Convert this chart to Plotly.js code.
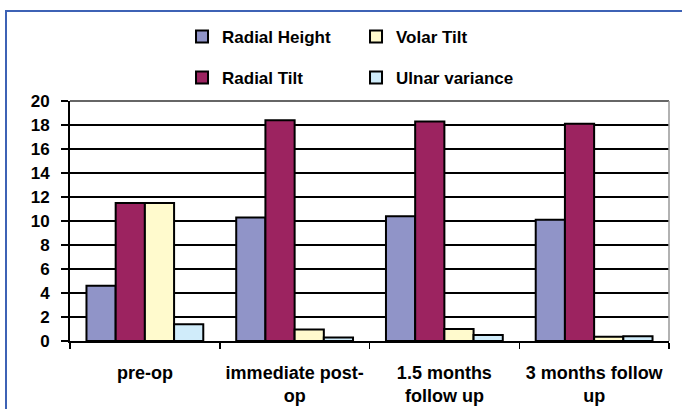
<!DOCTYPE html>
<html>
<head>
<meta charset="utf-8">
<script src="https://cdn.plot.ly/plotly-3.0.1.min.js"></script>
<style>
html,body{margin:0;padding:0;background:#fff;}
#frame{position:absolute;left:5px;top:10px;width:677px;height:399px;border-left:2px solid #3d62b5;border-top:2px solid #3d62b5;box-sizing:border-box;}
#chart{position:absolute;left:0;top:0;width:682px;height:409px;}
</style>
</head>
<body>
<div id="frame"></div>
<div id="chart"></div>
<script>
const categories = ["pre-op", "immediate post-<br>op", "1.5 months<br>follow up", "3 months follow<br>up"];
const radialHeight = [4.6, 10.3, 10.4, 10.1];
const radialTilt = [11.5, 18.4, 18.3, 18.1];
const volarTilt = [11.5, 0.95, 1.0, 0.35];
const ulnarVariance = [1.4, 0.3, 0.5, 0.4];
const yTicks = [0, 2, 4, 6, 8, 10, 12, 14, 16, 18, 20];

const line = {color: "#000", width: 2};
const traces = [
  {type: "bar", name: "Radial Height", x: categories, y: radialHeight, marker: {color: "#9094c8", line: line}, legend: "legend"},
  {type: "bar", name: "Radial Tilt", x: categories, y: radialTilt, marker: {color: "#9c2360", line: line}, legend: "legend2"},
  {type: "bar", name: "Volar Tilt", x: categories, y: volarTilt, marker: {color: "#fffacd", line: line}, legend: "legend"},
  {type: "bar", name: "Ulnar variance", x: categories, y: ulnarVariance, marker: {color: "#d0ecfa", line: line}, legend: "legend2"}
];

const fam = "Liberation Sans, Arial, sans-serif";
const font = {family: fam, size: 18, color: "#000", weight: "bold"};
const legendBase = {orientation: "h", x: 0.187, xanchor: "left", yanchor: "middle",
  entrywidth: 129, entrywidthmode: "pixels", itemwidth: 30, bgcolor: "rgba(0,0,0,0)",
  font: {family: fam, size: 17, color: "#000", weight: "bold"}, traceorder: "normal"};

const layout = {
  width: 682, height: 409,
  margin: {l: 70, r: 13, t: 101, b: 68},
  paper_bgcolor: "rgba(0,0,0,0)", plot_bgcolor: "#fff",
  font: font,
  barmode: "group", bargap: 0.22, bargroupgap: 0,
  showlegend: true,
  legend: Object.assign({}, legendBase, {y: 1.267}),
  legend2: Object.assign({}, legendBase, {y: 1.096}),
  xaxis: {type: "category", tickson: "boundaries", ticks: "outside", ticklen: 6, tickwidth: 1.5, tickcolor: "#000",
    showline: true, linecolor: "#000", linewidth: 2, showgrid: false, tickfont: font, automargin: false,
    ticklabelstandoff: 14},
  yaxis: {range: [0, 20], tickvals: yTicks, ticks: "outside", ticklen: 7, tickwidth: 1.5, tickcolor: "#000",
    showline: true, linecolor: "#000", linewidth: 2, showgrid: true, gridcolor: "#000", gridwidth: 2,
    tickfont: Object.assign({}, font, {size: 17}), zeroline: false, automargin: false, ticklabelstandoff: 8},
  shapes: [
    {type: "line", xref: "paper", yref: "paper", x0: 0, x1: 1, y0: 1, y1: 1, line: {color: "#666", width: 2}, layer: "above"},
    {type: "line", xref: "paper", yref: "paper", x0: 1, x1: 1, y0: 0, y1: 1, line: {color: "#999", width: 1.5}, layer: "above"}
  ]
};

Plotly.newPlot("chart", traces, layout, {displayModeBar: false, staticPlot: true});
</script>
</body>
</html>
